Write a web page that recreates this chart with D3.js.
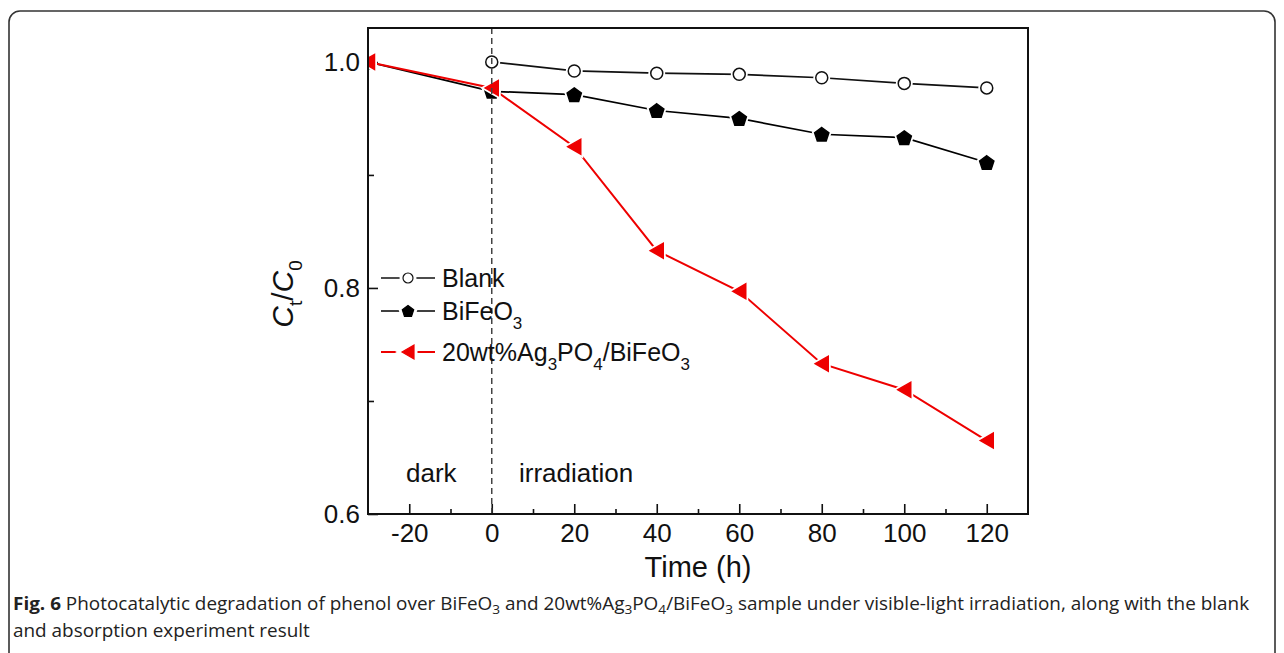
<!DOCTYPE html>
<html>
<head>
<meta charset="utf-8">
<script src="https://cdn.jsdelivr.net/npm/d3@7"></script>
<style>
  body { margin: 0; background: #fff; }
  svg { display: block; }
  .tick text { font-family: "Liberation Sans", Arial, sans-serif; font-size: 26px; fill: #111; }
</style>
</head>
<body>
<div id="chart"></div>
<script>
// data
var timeAll = [-30, 0, 20, 40, 60, 80, 100, 120];
var timeBlank = [0, 20, 40, 60, 80, 100, 120];
var blankVals = [1.0, 0.992, 0.990, 0.989, 0.986, 0.981, 0.977];
var bifeo3Vals = [1.0, 0.974, 0.971, 0.957, 0.950, 0.936, 0.933, 0.911];
var agVals = [1.0, 0.977, 0.925, 0.833, 0.797, 0.733, 0.710, 0.665];
var xMajor = [-20, 0, 20, 40, 60, 80, 100, 120];
var xMinor = [-10, 10, 30, 50, 70, 90, 110];
var yMajor = [0.6, 0.8, 1.0];
var yMinor = [0.7, 0.9];

const W = 1284, H = 653;
const svg = d3.select('#chart').append('svg').attr('width', W).attr('height', H);

// figure border box
svg.append('rect')
  .attr('x', 9).attr('y', 11).attr('width', 1266).attr('height', 720)
  .attr('rx', 11)
  .attr('fill', 'none').attr('stroke', '#333').attr('stroke-width', 1.6);

const x = d3.scaleLinear().domain([-30, 130]).range([368, 1028]);
const y = d3.scaleLinear().domain([0.6, 1.03]).range([514, 28]);

svg.append('clipPath').attr('id', 'plotclip')
  .append('rect')
  .attr('x', x.range()[0]).attr('y', y.range()[1])
  .attr('width', x.range()[1] - x.range()[0])
  .attr('height', y.range()[0] - y.range()[1]);

// axes: major + minor ticks pointing inward
function styleAxis(g) {
  g.select('.domain').remove();
  g.selectAll('.tick line').attr('stroke', '#111').attr('stroke-width', 1.6);
}
svg.append('g')
  .attr('transform', `translate(0,${y.range()[0]})`)
  .call(d3.axisBottom(x).tickValues(xMajor).tickSize(-10).tickPadding(10).tickFormat(d => String(d)))
  .call(styleAxis);
svg.append('g')
  .attr('transform', `translate(0,${y.range()[0]})`)
  .call(d3.axisBottom(x).tickValues(xMinor).tickSize(-5).tickFormat(''))
  .call(styleAxis);
svg.append('g')
  .attr('transform', `translate(${x.range()[0]},0)`)
  .call(d3.axisLeft(y).tickValues(yMajor).tickSize(-10).tickPadding(8).tickFormat(d => d.toFixed(1)))
  .call(styleAxis);
svg.append('g')
  .attr('transform', `translate(${x.range()[0]},0)`)
  .call(d3.axisLeft(y).tickValues(yMinor).tickSize(-6).tickFormat(''))
  .call(styleAxis);

// marker shapes
function pentagon(r) {
  let pts = [];
  for (let i = 0; i < 5; i++) {
    let a = -Math.PI / 2 + i * 2 * Math.PI / 5;
    pts.push([r * Math.cos(a), r * Math.sin(a) + r * 0.1]);
  }
  return 'M' + pts.join('L') + 'Z';
}
function triLeft(s) {
  return `M${-s},0L${s},${-s * 1.15}L${s},${s * 1.15}Z`;
}
function circlePath(r) {
  return `M${r},0A${r},${r} 0 1,1 ${-r},0A${r},${r} 0 1,1 ${r},0Z`;
}

var series = [
  {name: 'Blank', t: timeBlank, v: blankVals, color: '#111', lw: 1.7,
   shape: circlePath(6), legShape: circlePath(5), fill: '#fff'},
  {name: 'BiFeO3', t: timeAll, v: bifeo3Vals, color: '#000', lw: 1.7,
   shape: pentagon(7.5), legShape: pentagon(6), fill: '#000'},
  {name: 'Ag', t: timeAll, v: agVals, color: '#ee0000', lw: 2,
   shape: triLeft(6.5), legShape: triLeft(6), fill: '#ee0000'}
];

const line = d3.line().x(d => x(d[0])).y(d => y(d[1]));
const plot = svg.append('g').attr('clip-path', 'url(#plotclip)');

series.forEach(function(s) {
  var pts = s.t.map((t, i) => [t, s.v[i]]);
  var g = plot.append('g');
  g.append('path').datum(pts)
    .attr('d', line)
    .attr('fill', 'none').attr('stroke', s.color).attr('stroke-width', s.lw);
  // white halo gives the small gap between line and marker
  g.selectAll('.halo').data(pts).enter().append('path')
    .attr('class', 'halo')
    .attr('transform', d => `translate(${x(d[0])},${y(d[1])})`)
    .attr('d', s.shape)
    .attr('fill', '#fff').attr('stroke', '#fff').attr('stroke-width', 5);
  g.selectAll('.mk').data(pts).enter().append('path')
    .attr('class', 'mk')
    .attr('transform', d => `translate(${x(d[0])},${y(d[1])})`)
    .attr('d', s.shape)
    .attr('fill', s.fill).attr('stroke', s.color).attr('stroke-width', 1.5);
});

// dashed separator at t = 0
svg.append('line')
  .attr('x1', x(0)).attr('x2', x(0))
  .attr('y1', y.range()[1]).attr('y2', y.range()[0])
  .attr('stroke', '#444').attr('stroke-width', 1.5)
  .attr('stroke-dasharray', '6,4');

// frame
svg.append('rect')
  .attr('x', x.range()[0]).attr('y', y.range()[1])
  .attr('width', x.range()[1] - x.range()[0])
  .attr('height', y.range()[0] - y.range()[1])
  .attr('fill', 'none').attr('stroke', '#111').attr('stroke-width', 2);

// legend
var legRows = [278, 311, 352];
var legLabels = [
  [['Blank', 0]],
  [['BiFeO', 0], ['3', 1]],
  [['20wt%Ag', 0], ['3', 1], ['PO', 0], ['4', 1], ['/BiFeO', 0], ['3', 1]]
];
series.forEach(function(s, i) {
  var ly = legRows[i];
  var lg = svg.append('g');
  lg.append('line').attr('x1', 381).attr('x2', 435).attr('y1', ly).attr('y2', ly)
    .attr('stroke', s.color).attr('stroke-width', s.lw);
  lg.append('path').attr('transform', `translate(408,${ly})`).attr('d', s.legShape)
    .attr('fill', '#fff').attr('stroke', '#fff').attr('stroke-width', 7);
  lg.append('path').attr('transform', `translate(408,${ly})`).attr('d', s.legShape)
    .attr('fill', s.fill).attr('stroke', s.color).attr('stroke-width', 1.2);
  var tx = lg.append('text').attr('x', 442).attr('y', ly + 9)
    .attr('font-family', '"Liberation Sans", Arial, sans-serif')
    .attr('font-size', 25).attr('fill', '#111');
  var prevSub = false;
  legLabels[i].forEach(function(p) {
    var sp = tx.append('tspan').text(p[0]);
    if (p[1]) { sp.attr('font-size', 17).attr('dy', 9); prevSub = true; }
    else if (prevSub) { sp.attr('dy', -9); prevSub = false; }
  });
});

// region labels
svg.append('text').attr('x', 406).attr('y', 482)
  .attr('font-family', '"Liberation Sans", Arial, sans-serif').attr('font-size', 26)
  .attr('fill', '#111').text('dark');
svg.append('text').attr('x', 519).attr('y', 482)
  .attr('font-family', '"Liberation Sans", Arial, sans-serif').attr('font-size', 26)
  .attr('fill', '#111').text('irradiation');

// axis titles
svg.append('text').attr('x', (x.range()[0] + x.range()[1]) / 2).attr('y', 577)
  .attr('text-anchor', 'middle')
  .attr('font-family', '"Liberation Sans", Arial, sans-serif').attr('font-size', 29)
  .attr('fill', '#111').text('Time (h)');

var yt = svg.append('text')
  .attr('transform', 'translate(293,294) rotate(-90)')
  .attr('text-anchor', 'middle')
  .attr('font-family', '"Liberation Sans", Arial, sans-serif').attr('font-size', 30)
  .attr('fill', '#111');
yt.append('tspan').attr('font-style', 'italic').text('C');
yt.append('tspan').attr('font-size', 19).attr('dy', 9).text('t');
yt.append('tspan').attr('dy', -9).text('/');
yt.append('tspan').attr('font-style', 'italic').text('C');
yt.append('tspan').attr('font-size', 19).attr('dy', 9).text('0');

// caption
var capFont = '"Open Sans", "Noto Sans", sans-serif';
var cap1 = [
  ['Fig. 6', 'b'], [' Photocatalytic degradation of phenol over BiFeO', 'n'], ['3', 's'],
  [' and 20wt%Ag', 'n'], ['3', 's'], ['PO', 'n'], ['4', 's'], ['/BiFeO', 'n'], ['3', 's'],
  [' sample under visible-light irradiation, along with the blank', 'n']
];
var cap2 = [['and absorption experiment result', 'n']];

function captionLine(parts) {
  var t = svg.append('text').attr('x', 0).attr('y', 0)
    .attr('font-family', capFont).attr('font-size', 18).attr('fill', '#222');
  var sub = false;
  parts.forEach(function(p) {
    var sp = t.append('tspan').text(p[0]);
    if (p[1] === 'b') sp.attr('font-weight', 'bold');
    if (p[1] === 's') { sp.attr('font-size', 13).attr('dy', 4); sub = true; }
    else if (sub) { sp.attr('dy', -4); sub = false; }
  });
  return t;
}
var c1 = captionLine(cap1);
var c2 = captionLine(cap2);
var sx = 1237 / c1.node().getComputedTextLength();
c1.attr('transform', `translate(13,610) scale(${sx},1)`);
c2.attr('transform', `translate(13,637) scale(${sx},1)`);
</script>
</body>
</html>
